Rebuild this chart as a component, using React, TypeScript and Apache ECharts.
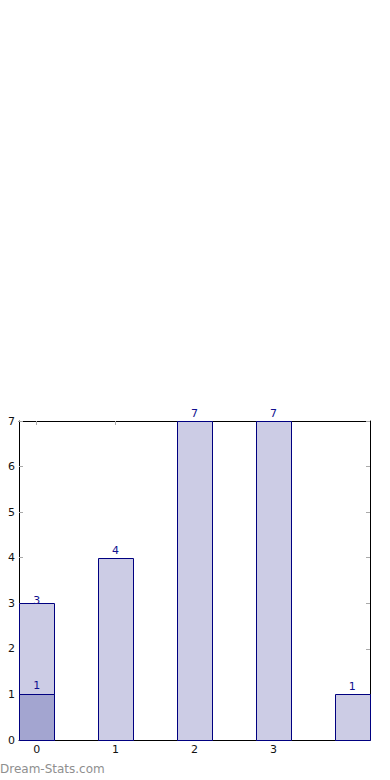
import React, { useEffect, useRef } from "react";
import * as echarts from "echarts";

// ---- data ----
const positions = [0, 1, 2, 3, 4];
const totalValues = [3, 4, 7, 7, 1];
const overlayPositions = [0];
const overlayValues = [1];
const xTickLabels = [0, 1, 2, 3];
const yMin = 0;
const yMax = 7;

// ---- styles ----
const HALF = 0.225;
const LABEL_GAP = [-2.5, 2.5, 2.5, 2.5, 2.5];
const OVERLAY_LABEL_GAP = [3.5];
const FILL_LIGHT = "#ccccE5";
const FILL_DARK = "#a3a5d0";
const STROKE = "#000080";
const LABEL_COLOR = "#10108f";
const FONT = "DejaVu Sans";

function makeRender(fill: string, gaps: number[]) {
  return (params: any, api: any) => {
    const x = api.value(0);
    const y = api.value(1);
    const p0 = api.coord([x - HALF, 0]);
    const p1 = api.coord([x + HALF, y]);
    const left = Math.round(p0[0]) + 0.5;
    const right = Math.round(p1[0]) + 0.5;
    const top = Math.round(p1[1]) + 0.5;
    const bottom = Math.round(p0[1]) + 0.5;
    const cx = (p0[0] + p1[0]) / 2;
    return {
      type: "group",
      children: [
        {
          type: "rect",
          shape: { x: left, y: top, width: right - left, height: bottom - top },
          style: { fill, stroke: STROKE, lineWidth: 1 },
        },
        {
          type: "text",
          x: cx,
          y: top - gaps[params.dataIndex],
          style: {
            text: String(y),
            fill: LABEL_COLOR,
            font: `11px "${FONT}"`,
            textAlign: "center",
            textVerticalAlign: "bottom",
          },
        },
      ],
    };
  };
}

export default function App() {
  const ref = useRef<HTMLDivElement>(null);
  useEffect(() => {
    if (!ref.current) return;
    const chart = echarts.init(ref.current, undefined, { renderer: "svg" });
    const tickStyle = { show: true, inside: true, length: 4, lineStyle: { color: "#aaaaaa", width: 1 } };
    const axisLine = { show: true, onZero: false, lineStyle: { color: "#000000", width: 1 } };
    const labelStyle = { color: "#111111", fontFamily: FONT, fontSize: 11 };
    chart.setOption({
      animation: false,
      backgroundColor: "#ffffff",
      grid: { left: 19, right: 20, top: 421, bottom: 40, containLabel: false },
      xAxis: [
        {
          type: "value",
          min: positions[0] - HALF,
          max: positions[positions.length - 1] + HALF,
          position: "bottom",
          axisLine,
          axisTick: { ...tickStyle, customValues: xTickLabels },
          axisLabel: { ...labelStyle, margin: 4, customValues: xTickLabels },
          splitLine: { show: false },
        },
        {
          type: "value",
          min: positions[0] - HALF,
          max: positions[positions.length - 1] + HALF,
          position: "top",
          axisLine,
          axisTick: { ...tickStyle, customValues: xTickLabels },
          axisLabel: { show: false },
          splitLine: { show: false },
        },
      ],
      yAxis: [
        {
          type: "value",
          min: yMin,
          max: yMax,
          interval: 1,
          position: "left",
          axisLine,
          axisTick: tickStyle,
          axisLabel: { ...labelStyle, margin: 4 },
          splitLine: { show: false },
        },
        {
          type: "value",
          min: yMin,
          max: yMax,
          interval: 1,
          position: "right",
          axisLine,
          axisTick: tickStyle,
          axisLabel: { show: false },
          splitLine: { show: false },
        },
      ],
      series: [
        {
          type: "custom",
          xAxisIndex: 0,
          yAxisIndex: 0,
          clip: false,
          data: positions.map((p, i) => [p, totalValues[i]]),
          renderItem: makeRender(FILL_LIGHT, LABEL_GAP),
        },
        {
          type: "custom",
          xAxisIndex: 0,
          yAxisIndex: 0,
          clip: false,
          data: overlayPositions.map((p, i) => [p, overlayValues[i]]),
          renderItem: makeRender(FILL_DARK, OVERLAY_LABEL_GAP),
        },
      ],
      graphic: [
        {
          type: "text",
          left: 0,
          top: 763,
          style: {
            text: "Dream-Stats.com",
            fill: "#8f8f8f",
            font: `12px "${FONT}"`,
          },
        },
      ],
    });
    return () => chart.dispose();
  }, []);
  return (
    <div
      ref={ref}
      style={{ position: "fixed", left: 0, top: 0, width: 390, height: 780, background: "#fff" }}
    />
  );
}
